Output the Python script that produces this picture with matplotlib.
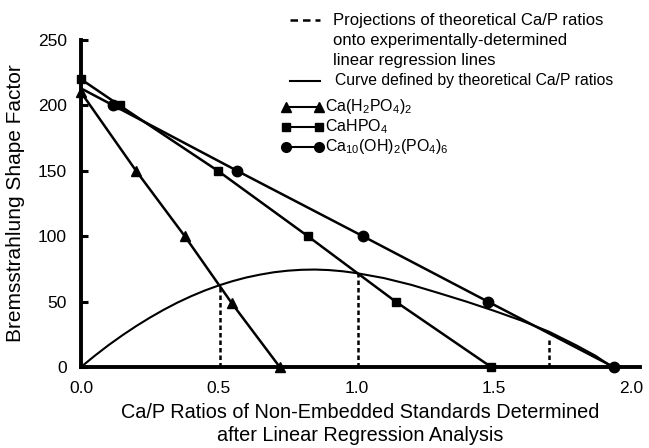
import matplotlib
matplotlib.use("Agg")
import matplotlib.pyplot as plt

plt.rcParams["font.family"] = ["Liberation Sans", "DejaVu Sans"]
plt.rcParams["mathtext.fontset"] = "custom"
plt.rcParams["mathtext.rm"] = "Liberation Sans"
plt.rcParams["mathtext.it"] = "Liberation Sans:italic"

# Ca(H2PO4)2 standards
tri_x = [0.0, 0.2, 0.377, 0.547, 0.722]
tri_y = [210, 150, 100, 49, 0]
# CaHPO4 standards
sq_x = [0.0, 0.14, 0.497, 0.824, 1.143, 1.49]
sq_y = [220, 200, 150, 100, 50, 0]
# Ca10(OH)2(PO4)6 standards (line starts at the axis, no marker there)
circ_line_x = [0.0, 0.117, 0.567, 1.024, 1.478, 1.935]
circ_line_y = [213, 200, 150, 100, 50, 0]
circ_x = circ_line_x[1:]
circ_y = circ_line_y[1:]

# curve of theoretical Ca/P ratios
curve_x = [0.0, 0.05, 0.1, 0.15, 0.2, 0.25, 0.3, 0.35, 0.4, 0.45, 0.5,
           0.55, 0.6, 0.65, 0.7, 0.75, 0.8, 0.85, 0.9, 0.95, 1.0,
           1.1, 1.2, 1.3, 1.4, 1.5, 1.6, 1.7, 1.8, 1.87, 1.93]
curve_y = [0.0, 8.6, 16.7, 24.2, 31.2, 37.7, 43.7, 49.2, 54.1, 58.5, 62.3,
           65.6, 68.4, 70.6, 72.4, 73.6, 74.3, 74.5, 74.1, 73.2, 71.8,
           68.0, 62.8, 56.5, 50.0, 43.0, 35.5, 27.0, 16.5, 8.5, 0.0]

# projections of theoretical Ca/P ratios
proj_x = [0.505, 1.005, 1.70]
proj_top = [62.5, 71.8, 21]

fig = plt.figure(figsize=(6.49, 4.48), dpi=100)
ax = fig.add_axes([0.1248, 0.1808, 0.861, 0.730])

lw = 1.8
ax.plot(curve_x, curve_y, color="black", lw=1.5, zorder=2)
ax.plot(tri_x, tri_y, color="black", lw=lw, marker="^", ms=7, zorder=3, clip_on=False)
ax.plot(sq_x, sq_y, color="black", lw=lw, marker="s", ms=6, zorder=3, clip_on=False)
ax.plot(circ_line_x, circ_line_y, color="black", lw=lw, zorder=3, clip_on=False)
ax.plot(circ_x, circ_y, color="black", lw=0, marker="o", ms=7.5, zorder=3, clip_on=False)
for px, pt in zip(proj_x, proj_top):
    ax.plot([px, px], [0, pt], color="black", lw=1.8, ls=(0, (1.8, 1.2)), zorder=2)

ax.set_xlim(0, 2.03)
ax.set_ylim(0, 250)
ax.set_xticks([0.0, 0.5, 1.0, 1.5, 2.0])
ax.set_xticklabels(["0.0", "0.5", "1.0", "1.5", "2.0"])
ax.set_yticks([0, 50, 100, 150, 200, 250])
for s in ["top", "right"]:
    ax.spines[s].set_visible(False)
for s in ["left", "bottom"]:
    ax.spines[s].set_linewidth(2.8)
ax.tick_params(axis="y", direction="in", length=5, width=2.2, labelsize=12.5, pad=10)
ax.tick_params(axis="x", length=0, labelsize=12.5, pad=10)

ax.set_ylabel("Bremsstrahlung Shape Factor", fontsize=15, labelpad=9)
ax.set_xlabel("Ca/P Ratios of Non-Embedded Standards Determined\n"
              "after Linear Regression Analysis", fontsize=14.3, labelpad=5,
              linespacing=1.3)

# legend drawn by hand in figure pixels
W, H = 649.0, 448.0
def fx(p):
    return p / W
def fy(p):
    return 1 - p / H

fs = 11.5
fig.add_artist(plt.Line2D([fx(290), fx(320)], [fy(20), fy(20)], color="black",
                          lw=1.8, ls=(0, (3, 2))))
fig.text(fx(333), fy(20), "Projections of theoretical Ca/P ratios", fontsize=fs + 0.5, va="center")
fig.text(fx(333), fy(40), "onto experimentally-determined", fontsize=fs + 0.5, va="center")
fig.text(fx(333), fy(60), "linear regression lines", fontsize=fs + 0.5, va="center")
fig.add_artist(plt.Line2D([fx(290), fx(320)], [fy(81), fy(81)], color="black", lw=1.5))
fig.text(fx(335), fy(81), "Curve defined by theoretical Ca/P ratios", fontsize=fs - 0.2, va="center")

leg_rows = [
    ("^", 7, 107, r"Ca(H$_2$PO$_4$)$_2$"),
    ("s", 5.5, 127, r"CaHPO$_4$"),
    ("o", 7, 147, r"Ca$_{10}$(OH)$_2$(PO$_4$)$_6$"),
]
for mk, ms, yy, lab in leg_rows:
    fig.add_artist(plt.Line2D([fx(286), fx(319)], [fy(yy), fy(yy)], color="black",
                              lw=1.5, marker=mk, ms=ms))
    fig.text(fx(325), fy(yy), lab, fontsize=fs, va="center")

fig.savefig("out.png", dpi=100)
